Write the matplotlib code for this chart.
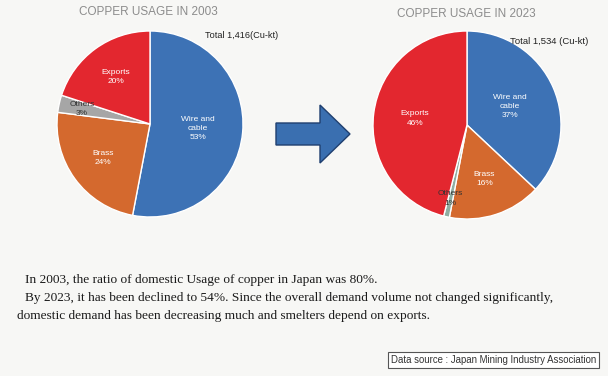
import numpy as np
import matplotlib.pyplot as plt
import matplotlib.patches as mpatches

# shares (%), clockwise from 12 o'clock
labels = ["Wire and\ncable", "Brass", "Others", "Exports"]
share_2003 = [53, 24, 3, 20]
share_2023 = [37, 16, 1, 46]
total_2003 = "Total 1,416(Cu-kt)"
total_2023 = "Total 1,534 (Cu-kt)"

notes = ["In 2003, the ratio of domestic Usage of copper in Japan was 80%.",
         "By 2023, it has been declined to 54%. Since the overall demand volume not changed significantly,",
         "domestic demand has been decreasing much and smelters depend on exports."]

colors_2003 = ["#3D72B5", "#D4692E", "#A6A6A6", "#E3272F"]
colors_2023 = ["#3D72B5", "#D4692E", "#8FAEA2", "#E3272F"]
text_colors = ["white", "white", "#333333", "white"]

W, H = 608, 376
fig = plt.figure(figsize=(W/100, H/100), dpi=100)
fig.patch.set_facecolor("#F7F7F5")
ax = fig.add_axes([0, 0, 1, 1])


def draw_pie(vals, cols, center, radius, dists):
    wedges, _ = ax.pie(vals, colors=cols, startangle=90, counterclock=False,
                       center=center, radius=radius, frame=True,
                       wedgeprops=dict(edgecolor="white", linewidth=1))
    # put the labels by hand, at a per-slice distance
    for w, lab, v, d, tc in zip(wedges, labels, vals, dists, text_colors):
        ang = np.deg2rad((w.theta1 + w.theta2) / 2)
        x = center[0] + d * radius * np.cos(ang)
        y = center[1] + d * radius * np.sin(ang)
        ax.text(x, y, "%s\n%d%%" % (lab, v), ha="center", va="center",
                fontsize=6, color=tc, family="Liberation Sans",
                linespacing=1.45)


draw_pie(share_2003, colors_2003, (150, H - 124), 93, [0.52, 0.62, 0.75, 0.62])
draw_pie(share_2023, colors_2023, (467, H - 125), 94, [0.5, 0.6, 0.8, 0.56])
ax.set_xlim(0, W)
ax.set_ylim(0, H)
ax.set_aspect("equal")
ax.axis("off")

ax.text(148, H - 12, "COPPER USAGE IN 2003", ha="center", va="center",
        fontsize=8.5, color="#8C8C8C", family="Liberation Sans")
ax.text(466, H - 14, "COPPER USAGE IN 2023", ha="center", va="center",
        fontsize=8.5, color="#8C8C8C", family="Liberation Sans")
ax.text(205, H - 35, total_2003, ha="left", va="center", fontsize=6.6,
        color="#222222", family="Liberation Sans")
ax.text(510, H - 41, total_2023, ha="left", va="center", fontsize=6.8,
        color="#222222", family="Liberation Sans")

# arrow between the pies
ax.add_patch(mpatches.FancyArrow(276, H - 134, 74, 0, width=22, head_width=58,
                                 head_length=30, length_includes_head=True,
                                 facecolor="#3A6FB0", edgecolor="#1F3F6F",
                                 linewidth=1))

xs = [25, 25, 17]
ys = [280, 298, 316]
for x, y, s in zip(xs, ys, notes):
    ax.text(x, H - y, s, ha="left", va="center", fontsize=9.6,
            color="#1A1A1A", family="Liberation Serif")

ax.text(493.5, H - 360, "Data source : Japan Mining Industry Association",
        ha="center", va="center", fontsize=6.9, color="#333333",
        family="Liberation Sans",
        bbox=dict(boxstyle="square,pad=0.35", facecolor="white",
                  edgecolor="#555555", linewidth=0.8))

fig.savefig("out.png", dpi=100, facecolor=fig.get_facecolor())
